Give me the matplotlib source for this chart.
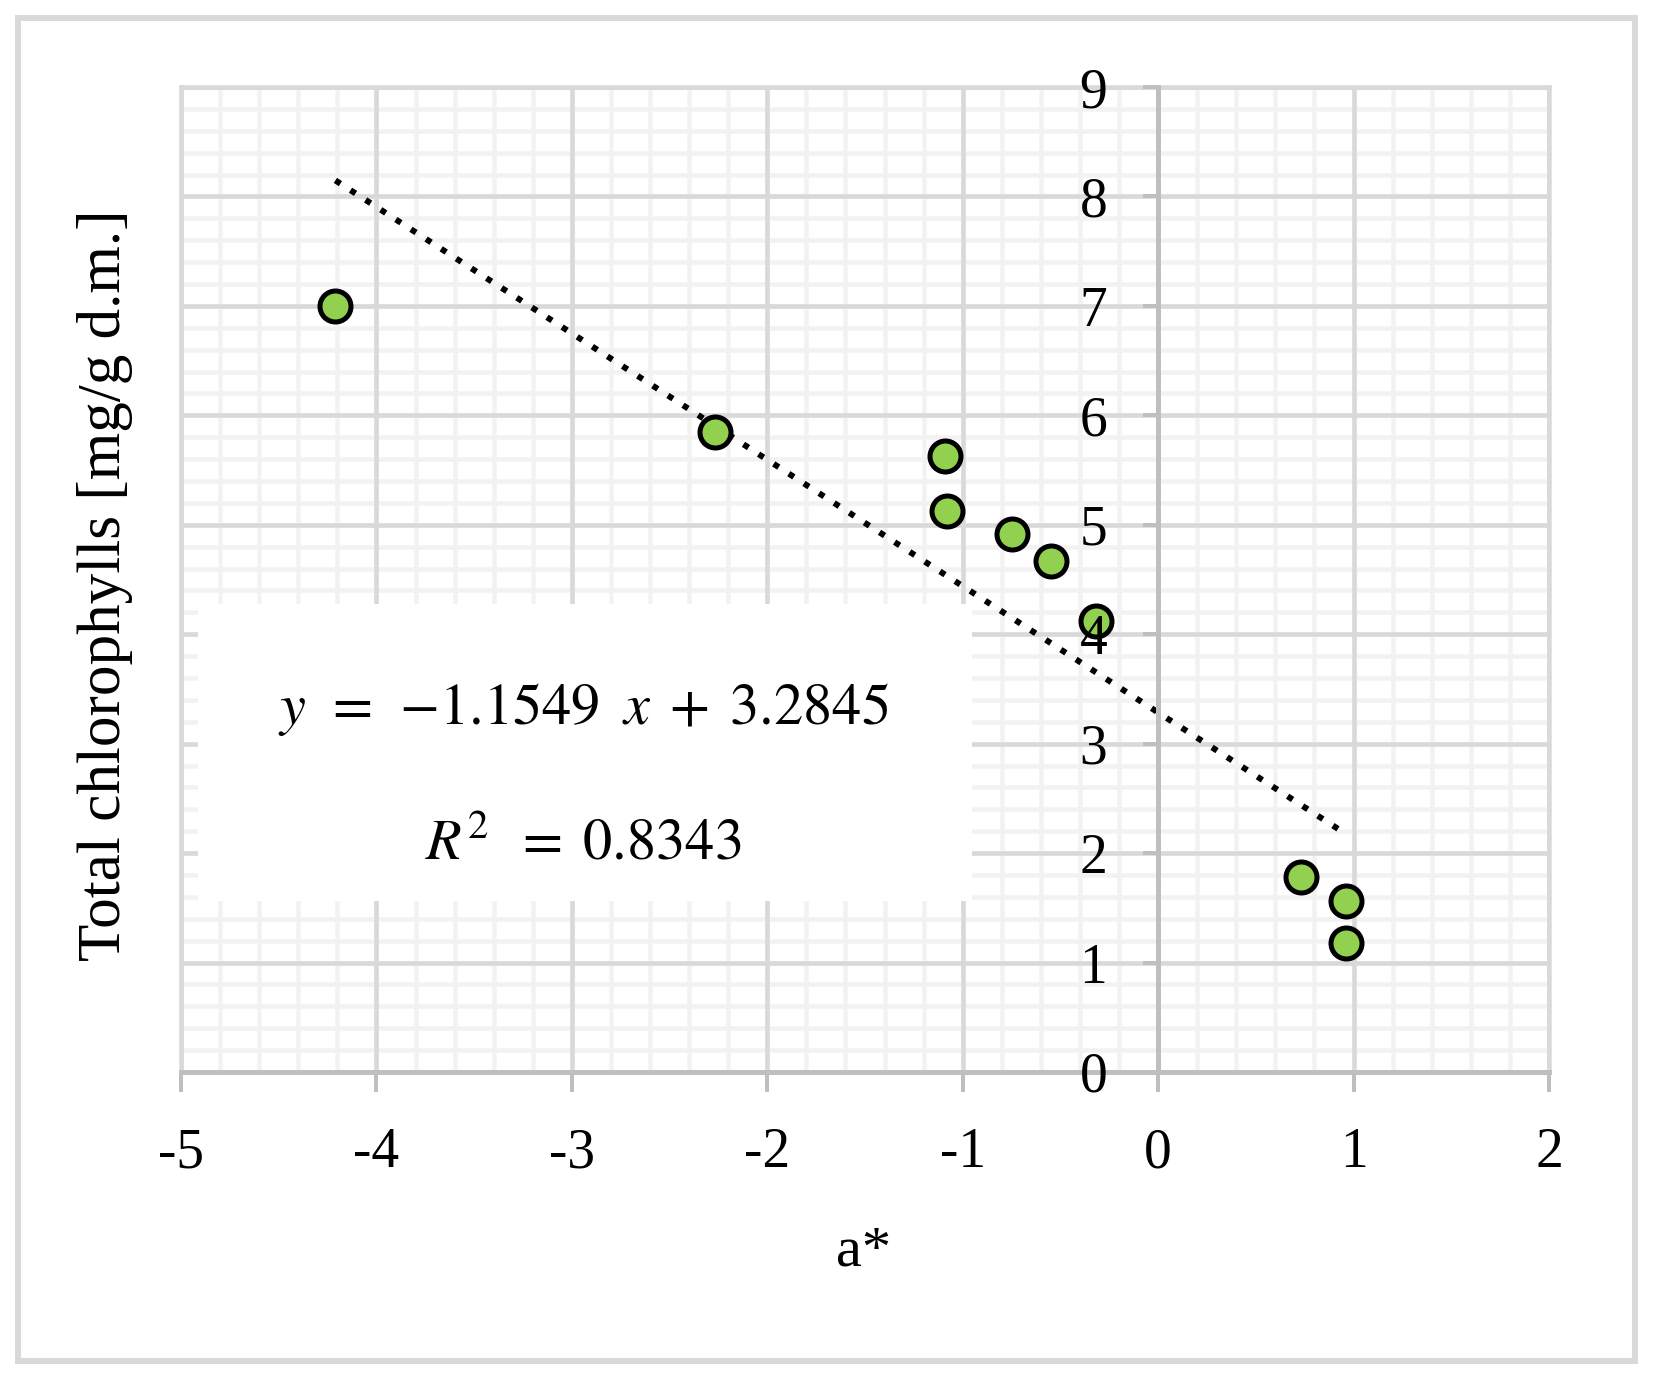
import matplotlib
matplotlib.use("Agg")
import matplotlib.pyplot as plt
import matplotlib.patches as mpatches
import numpy as np

# ---- data ----
a_star = [-4.21, -2.27, -1.09, -1.08, -0.75, -0.55, -0.32, 0.73, 0.96, 0.96]
chlorophylls = [7.00, 5.85, 5.63, 5.13, 4.92, 4.67, 4.12, 1.78, 1.56, 1.18]
slope = -1.1549
intercept = 3.2845
r_squared = 0.8343
xticks = [-5, -4, -3, -2, -1, 0, 1, 2]
xtick_labels = ["-5", "-4", "-3", "-2", "-1", "0", "1", "2"]
yticks = [0, 1, 2, 3, 4, 5, 6, 7, 8, 9]
ytick_labels = ["0", "1", "2", "3", "4", "5", "6", "7", "8", "9"]
x_label = "a*"
y_label = "Total chlorophylls [mg/g d.m.]"

# ---- style ----
W, H = 1653, 1379
DPI = 100
PX = 72.0 / DPI  # points per pixel
SERIF = ["Liberation Serif", "DejaVu Serif"]
FS = 40
MAJOR = "#d9d9d9"
MINOR = "#f2f2f2"
AXC = "#bfbfbf"
plt.rcParams["mathtext.fontset"] = "stix"

fig = plt.figure(figsize=(W / DPI, H / DPI), dpi=DPI)

L, R, T, B = 181, 1549, 87, 1072
rect = [L / W, (H - B) / H, (R - L) / W, (B - T) / H]

# background axes: minor grid only
axbg = fig.add_axes(rect)
axbg.set_xlim(-5, 2)
axbg.set_ylim(0, 9)
axbg.set_xticks(np.arange(-5, 2.001, 0.2))
axbg.set_yticks(np.arange(0, 9.001, 0.2))
axbg.tick_params(which="both", length=0, labelbottom=False, labelleft=False)
axbg.grid(True, color=MINOR, lw=4.5 * PX)
for s in axbg.spines.values():
    s.set_visible(False)

# main axes: major grid, x-axis, data
ax = fig.add_axes(rect)
ax.patch.set_visible(False)
ax.set_xlim(-5, 2)
ax.set_ylim(0, 9)
ax.set_xticks(xticks, labels=xtick_labels)
ax.set_yticks(yticks)
ax.grid(True, color=MAJOR, lw=4.5 * PX)
for s in ["top", "left", "right"]:
    ax.spines[s].set_color(MAJOR)
    ax.spines[s].set_linewidth(4.5 * PX)
ax.spines["bottom"].set_color(AXC)
ax.spines["bottom"].set_linewidth(5 * PX)

# equation box (white, hides gridlines)
bx0, bx1, by0, by1 = 198, 972, 604, 901
box = mpatches.Rectangle((bx0 / W, (H - by1) / H), (bx1 - bx0) / W, (by1 - by0) / H,
                         transform=fig.transFigure, facecolor="white",
                         edgecolor="none", zorder=2)
ax.add_patch(box)

# trendline
xs = np.array([min(a_star), max(a_star)])
ax.plot(xs, slope * xs + intercept, color="black", lw=6 * PX,
        linestyle=(0, (1, 2)), dash_capstyle="butt", zorder=3)

# points
ax.plot(a_star, chlorophylls, linestyle="none", marker="o",
        markersize=31 * PX, markeredgewidth=5 * PX,
        markerfacecolor="#92d050", markeredgecolor="black", zorder=4)

# equation text
ax.text(583 / W, (H - 709) / H,
        r"$y\;\,=\;\,{-}1.1549\;\;x\;+\;3.2845$", transform=fig.transFigure,
        ha="center", va="center", fontsize=42, zorder=5)
ax.text(583 / W, (H - 843) / H,
        r"$R^2\;\;=\;0.8343$", transform=fig.transFigure,
        ha="center", va="center", fontsize=42, zorder=5)

# vertical axis crossing at x = 0 (drawn on top)
ax2 = ax.twinx()
ax2.set_ylim(0, 9)
ax2.patch.set_visible(False)
for s in ["top", "right", "bottom"]:
    ax2.spines[s].set_visible(False)
ax2.spines["left"].set_visible(True)
ax2.spines["left"].set_position(("data", 0))
ax2.spines["left"].set_color(AXC)
ax2.spines["left"].set_linewidth(5 * PX)
ax2.yaxis.set_ticks_position("left")
ax2.set_yticks(yticks, labels=ytick_labels)
ax2.tick_params(axis="y", which="major", direction="out", length=15 * PX,
                width=4 * PX, color=AXC, pad=36 * PX, labelsize=FS)
ax2.tick_params(axis="y", which="minor", length=0)
for lab in ax2.get_yticklabels():
    lab.set_fontfamily(SERIF)

# main-axes tick settings (after twinx, which resets left ticks)
ax.tick_params(axis="y", which="both", left=False, right=False,
               labelleft=False, labelright=False)
ax.tick_params(axis="x", which="major", direction="out", length=20 * PX,
               width=4 * PX, color=AXC, pad=35 * PX, labelsize=FS)
ax.tick_params(axis="x", which="minor", length=0)
ax.minorticks_off()
for lab in ax.get_xticklabels():
    lab.set_fontfamily(SERIF)

# axis titles
fig.text(864 / W, (H - 1252) / H, x_label, ha="center", va="center",
         fontsize=42, family=SERIF)
fig.text(105 / W, (H - 585) / H, y_label, ha="center", va="center",
         rotation=90, fontsize=44, family=SERIF)

# outer frame
fig.patches.append(mpatches.Rectangle((18 / W, (H - 1361) / H), (1635 - 18) / W,
                                      (1361 - 18) / H, transform=fig.transFigure,
                                      facecolor="none", edgecolor=MAJOR,
                                      lw=6 * PX))

fig.savefig("out.png", dpi=DPI, facecolor="white")
